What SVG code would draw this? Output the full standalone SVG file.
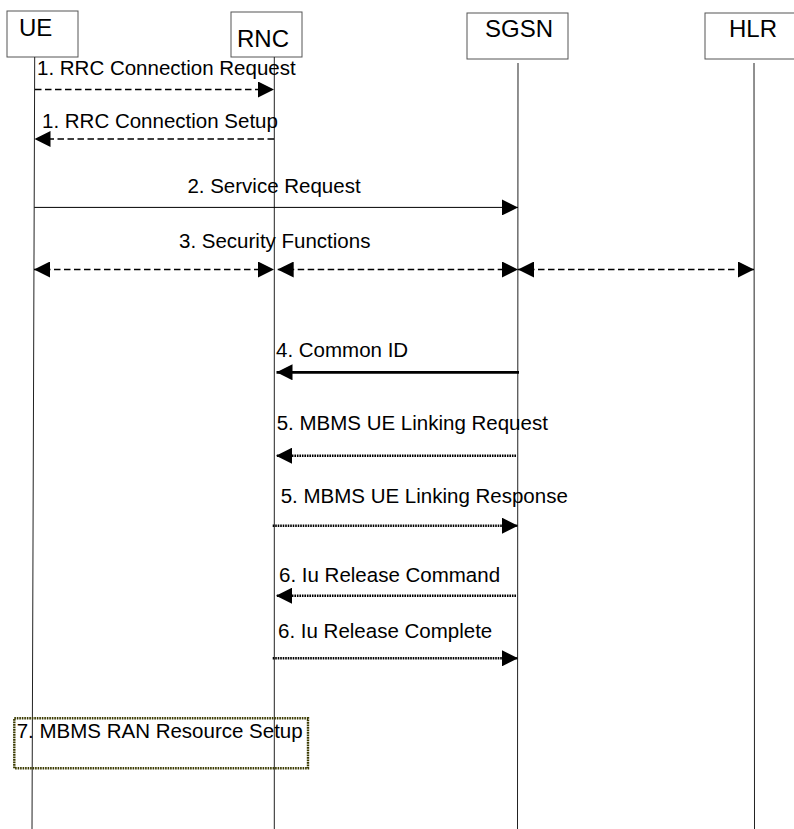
<svg xmlns="http://www.w3.org/2000/svg" width="794" height="829" viewBox="0 0 794 829">
  <style>
    .title { font-family: "Liberation Sans", Arial, sans-serif; font-size: 24px; fill: #000; }
    .msg { font-family: "Liberation Sans", Arial, sans-serif; font-size: 20.5px; fill: #000; }
    .box { fill: #fff; stroke: #555; stroke-width: 1; }
    .life { stroke: #222; stroke-width: 1; fill: none; }
    .dash { stroke: #000; stroke-width: 1.5; stroke-dasharray: 6.5 3.5; fill: none; }
    .solid { stroke: #000; stroke-width: 1; fill: none; }
    .thick { stroke: #000; stroke-width: 2.7; fill: none; }
    .dot { stroke: #000; stroke-width: 2.6; stroke-dasharray: 1.6 0.9; fill: none; }
  </style>
  <defs>
    <marker id="ah" markerUnits="userSpaceOnUse" markerWidth="16" markerHeight="16" viewBox="0 0 16 16" refX="16" refY="8" orient="auto-start-reverse">
      <path d="M0,0 L16,8 L0,16 Z" fill="#000"/>
    </marker>
  </defs>

  <rect width="794" height="829" fill="#fff"/>

  <!-- entities -->
  <g id="ue">
    <rect class="box" x="7" y="11" width="71" height="46"/>
    <text class="title" x="19" y="36">UE</text>
    <line class="life" x1="34.7" y1="57" x2="32" y2="829"/>
  </g>
  <g id="rnc">
    <rect class="box" x="231" y="12" width="71" height="45"/>
    <text class="title" x="237" y="47">RNC</text>
    <line class="life" x1="274.3" y1="57" x2="274.3" y2="829"/>
  </g>
  <g id="sgsn">
    <rect class="box" x="467" y="13" width="101" height="46"/>
    <text class="title" x="485" y="37">SGSN</text>
    <line class="life" x1="518" y1="63" x2="517.5" y2="829"/>
  </g>
  <g id="hlr">
    <rect class="box" x="705" y="13" width="100" height="46"/>
    <text class="title" x="729" y="37">HLR</text>
    <line class="life" x1="754" y1="63" x2="754.5" y2="829"/>
  </g>

  <!-- messages -->
  <g id="connectors">
    <line class="dash" x1="35" y1="89.5" x2="274" y2="89.5" marker-end="url(#ah)"/>
    <line class="dash" x1="274" y1="139" x2="34.5" y2="139" marker-end="url(#ah)"/>
    <line class="solid" x1="34.3" y1="207.4" x2="518" y2="207.4" marker-end="url(#ah)"/>
    <line class="dash" x1="34" y1="269.5" x2="274" y2="269.5" marker-start="url(#ah)" marker-end="url(#ah)"/>
    <line class="dash" x1="277.7" y1="269.5" x2="518" y2="269.5" marker-start="url(#ah)" marker-end="url(#ah)"/>
    <line class="dash" x1="518" y1="269.5" x2="754" y2="269.5" marker-start="url(#ah)" marker-end="url(#ah)"/>
    <line class="thick" x1="519" y1="372.3" x2="276.5" y2="372.3" marker-end="url(#ah)"/>
    <line class="dot" x1="516" y1="455.7" x2="276" y2="455.7" marker-end="url(#ah)"/>
    <line class="dot" x1="272.7" y1="525.7" x2="518" y2="525.7" marker-end="url(#ah)"/>
    <line class="dot" x1="516" y1="595.7" x2="276" y2="595.7" marker-end="url(#ah)"/>
    <line class="dot" x1="272.7" y1="658.3" x2="518" y2="658.3" marker-end="url(#ah)"/>
  </g>

  <g id="labels">
    <text class="msg" x="37" y="75">1. RRC Connection Request</text>
    <text class="msg" x="42" y="128">1. RRC Connection Setup</text>
    <text class="msg" x="187.4" y="193.3">2. Service Request</text>
    <text class="msg" x="179" y="248.3">3. Security Functions</text>
    <text class="msg" x="276" y="356.7">4. Common ID</text>
    <text class="msg" x="276.7" y="430">5. MBMS UE Linking Request</text>
    <text class="msg" x="280.7" y="503">5. MBMS UE Linking Response</text>
    <text class="msg" x="279" y="581.7">6. Iu Release Command</text>
    <text class="msg" x="278" y="638">6. Iu Release Complete</text>
  </g>

  <!-- local procedure -->
  <g id="ran-setup">
    <rect x="14.3" y="718.3" width="293.7" height="50" fill="none" stroke="#3a3a00" stroke-width="2.4" stroke-dasharray="1.6 0.9"/>
    <text class="msg" x="16.7" y="738.3">7. MBMS RAN Resource Setup</text>
  </g>
</svg>
